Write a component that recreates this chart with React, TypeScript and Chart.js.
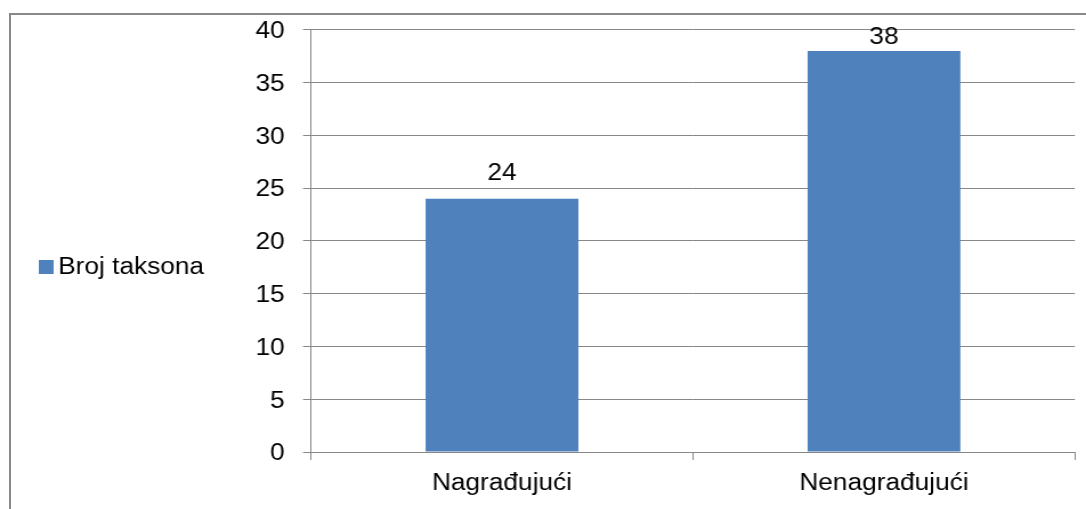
import React, { useEffect, useRef } from "react";
import { Chart, registerables } from "chart.js";

Chart.register(...registerables);

const categories: string[] = ["Nagrađujući", "Nenagrađujući"];
const seriesLabel = "Broj taksona";
const seriesValues: number[] = [24, 38];
const yMin = 0;
const yMax = 40;
const yStep = 5;

const W = 952;
const H = 509;
const SX = 1086 / W;
const FONT = "'Liberation Sans', Arial, sans-serif";
const FS = 23;
const BAR = "#4F81BD";
const GRID = "#878787";

const legendPlugin = {
  id: "leftLegend",
  afterDraw(chart: any) {
    const ctx = chart.ctx;
    const ds = chart.data.datasets[0];
    ctx.save();
    ctx.fillStyle = BAR;
    ctx.fillRect(34, 260, 13, 14);
    ctx.fillStyle = "#000";
    ctx.font = `${FS}px ${FONT}`;
    ctx.textAlign = "left";
    ctx.textBaseline = "middle";
    ctx.fillText(ds.label, 51, 268);
    ctx.restore();
  },
};

const labelPlugin = {
  id: "barLabels",
  afterDatasetsDraw(chart: any) {
    const ctx = chart.ctx;
    const meta = chart.getDatasetMeta(0);
    const data = chart.data.datasets[0].data;
    ctx.save();
    ctx.fillStyle = "#000";
    ctx.font = `${FS}px ${FONT}`;
    ctx.textAlign = "center";
    ctx.textBaseline = "alphabetic";
    meta.data.forEach((el: any, i: number) => {
      const y = Math.max(el.y - 19, chart.chartArea.top + 14);
      ctx.fillText(String(data[i]), el.x, y);
    });
    ctx.restore();
  },
};

export default function App() {
  const ref = useRef<HTMLCanvasElement | null>(null);
  useEffect(() => {
    if (!ref.current) return;
    const chart = new Chart(ref.current, {
      type: "bar",
      data: {
        labels: categories,
        datasets: [
          {
            label: seriesLabel,
            data: seriesValues,
            backgroundColor: BAR,
            borderWidth: 0,
            barPercentage: 0.4,
            categoryPercentage: 1,
          },
        ],
      },
      options: {
        animation: false,
        responsive: false,
        devicePixelRatio: 1,
        layout: { padding: { left: 0, right: 9.7, top: 29, bottom: 0 } },
        plugins: {
          legend: { display: false },
          tooltip: { enabled: false },
        },
        scales: {
          x: {
            grid: {
              display: true,
              drawOnChartArea: false,
              drawTicks: true,
              tickLength: 8,
              color: GRID,
              offset: true,
            },
            border: { display: true, color: GRID },
            ticks: {
              color: "#000",
              font: { family: FONT, size: FS },
              padding: 10,
              maxRotation: 0,
            },
            afterFit(scale: any) {
              scale.height = 57;
            },
          },
          y: {
            min: yMin,
            max: yMax,
            ticks: {
              stepSize: yStep,
              color: "#000",
              font: { family: FONT, size: FS },
              padding: 16,
              labelOffset: 2,
            },
            grid: {
              color: GRID,
              drawTicks: true,
              tickLength: 7,
            },
            border: { display: true, color: GRID },
            afterFit(scale: any) {
              scale.width = 272.6;
            },
          },
        },
      },
      plugins: [labelPlugin, legendPlugin],
    });
    return () => chart.destroy();
  }, []);

  return (
    <div
      style={{
        position: "fixed",
        left: 0,
        top: 0,
        width: 1086,
        height: 509,
        overflow: "hidden",
        background: "#fff",
      }}
    >
      <div
        style={{
          position: "absolute",
          left: 0,
          top: 0,
          width: W,
          height: H,
          transform: `scaleX(${SX})`,
          transformOrigin: "0 0",
        }}
      >
        <canvas ref={ref} width={W} height={H} />
      </div>
      <div
        style={{
          position: "absolute",
          left: 9,
          top: 13,
          width: 1100,
          height: 520,
          border: "2px solid #898989",
          pointerEvents: "none",
        }}
      />
    </div>
  );
}
